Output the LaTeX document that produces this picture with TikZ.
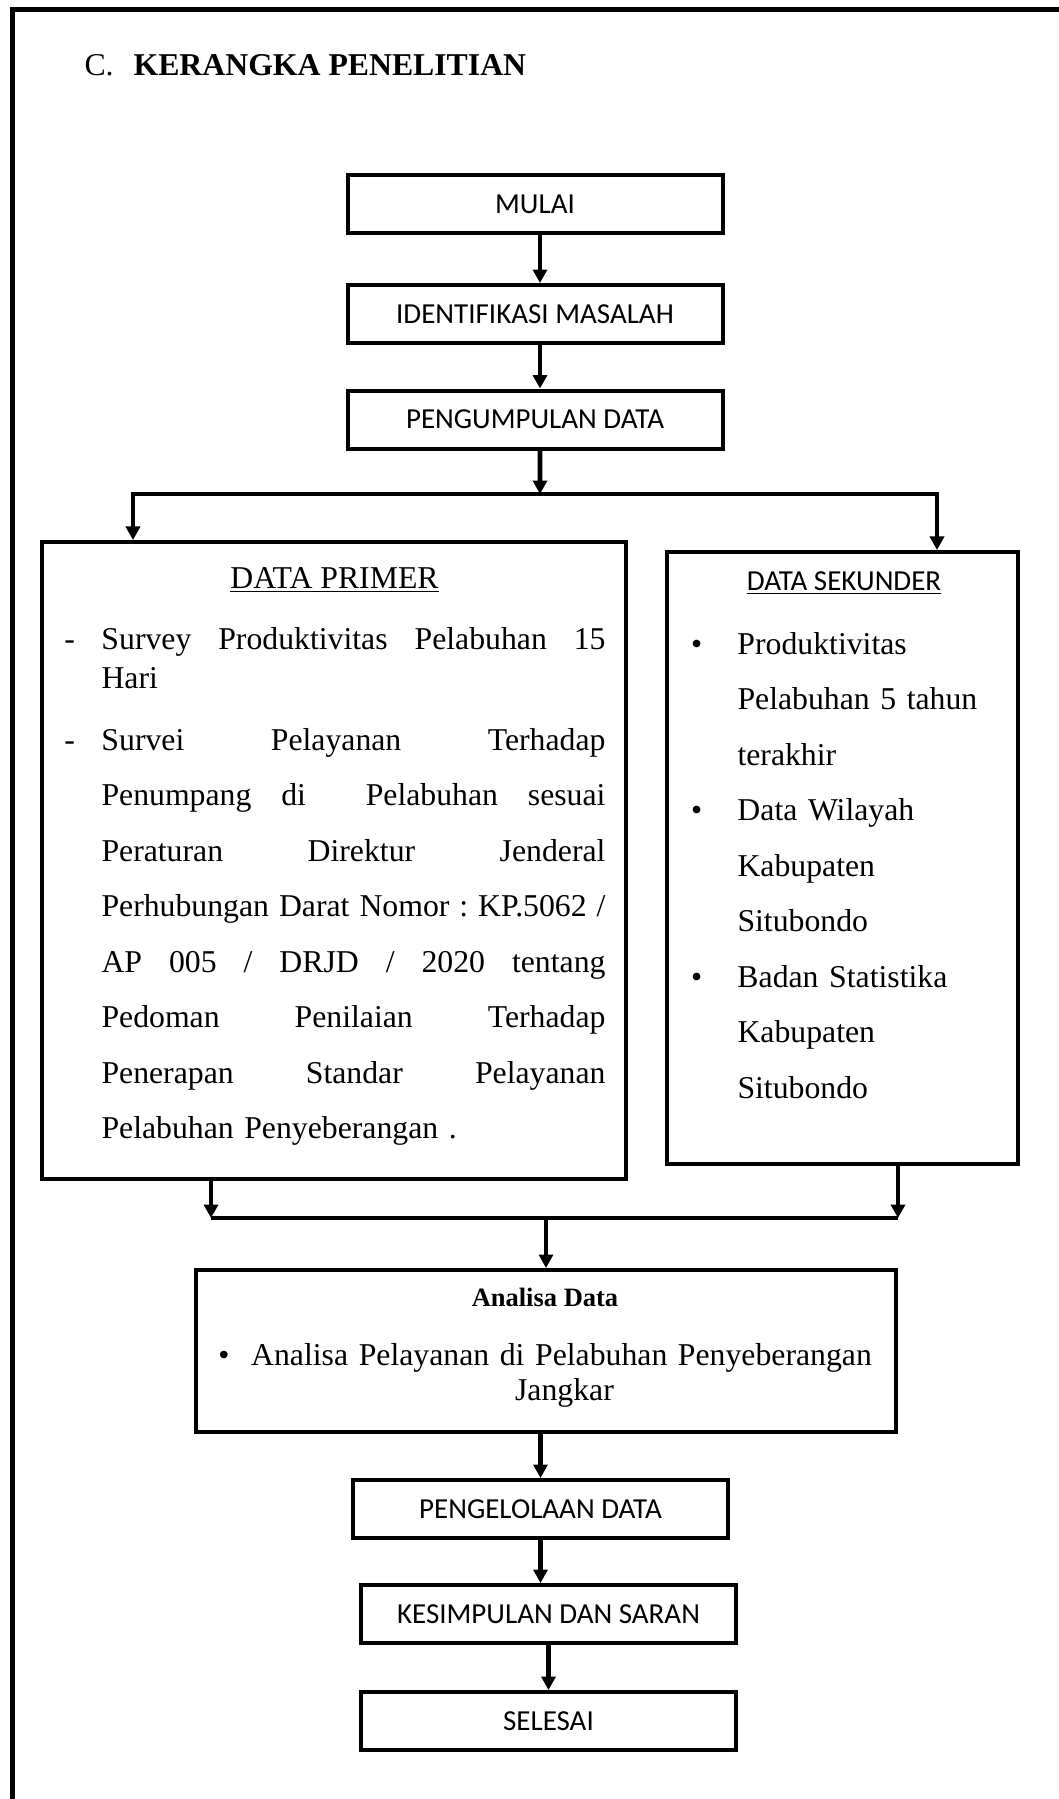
\documentclass[tikz,border=0pt]{standalone}
\usepackage{fontspec}
\setmainfont{Liberation Serif}
\newfontfamily\calibri{Carlito}
\usetikzlibrary{positioning,arrows.meta}
\newcommand{\fullline}[1]{\makebox[201.6pt][s]{\spaceskip=3.2pt plus 1fil\xspaceskip=3.2pt plus 1fil\relax #1}}
\newcommand{\tanda}[2]{\leavevmode\llap{\makebox[#1][l]{#2}}}

\begin{document}
\begin{tikzpicture}[x=0.4pt, y=-0.4pt,
        flowbox/.style={rectangle, draw=black, line width=1.6pt,
                   minimum width=150pt, minimum height=23.2pt, inner sep=0pt,
                   font=\calibri\fontsize{11.6}{14}\selectfont},
        databox/.style={rectangle, draw=black, line width=1.6pt, inner sep=0pt},
        teks/.style={inner sep=0pt, font=\fontsize{12.7}{22.2}\selectfont},
        arrow/.style={-{Triangle[length=5.4pt, width=5.6pt]}, line width=1.9pt},
        garis/.style={line width=1.9pt}
    ]
        \path[use as bounding box, fill=white] (0,0) rectangle (1059,1799);
        \draw[line width=2pt] (12,10) rectangle (1090,1830);

        \node[teks, anchor=base west] (judul) at (84,76) {C.\hspace{8pt}\textbf{KERANGKA PENELITIAN}};

        % alur atas
        \node[flowbox] (mulai) at (535,204) {MULAI};
        \node[flowbox, below=19.2pt of mulai] (ident) {IDENTIFIKASI MASALAH};
        \node[flowbox, below=17.4pt of ident] (kumpul) {PENGUMPULAN DATA};

        % data primer
        \node[databox, minimum width=233.4pt, minimum height=254.8pt] (primer) at (334.25,860.5) {};
        \node[teks, anchor=base] (primerjudul) at (334.5,588) {\underline{DATA PRIMER}};
        \node[teks, anchor=base west, text width=201.6pt, align=left] (primerisi) at (101,649) {%
            \tanda{14.8pt}{-}\fullline{Survey Produktivitas Pelabuhan 15}\\[-6.6pt]
            Hari\\[2.6pt]
            \tanda{14.8pt}{-}\fullline{Survei Pelayanan Terhadap}\\
            \fullline{Penumpang di\ \ Pelabuhan sesuai}\\
            \fullline{Peraturan Direktur Jenderal}\\
            \fullline{Perhubungan Darat Nomor : KP.5062 /}\\
            \fullline{AP 005 / DRJD / 2020 tentang}\\
            \fullline{Pedoman Penilaian Terhadap}\\
            \fullline{Penerapan Standar Pelayanan}\\
            Pelabuhan Penyeberangan .};

        % data sekunder
        \node[databox, minimum width=140.4pt, minimum height=244.8pt] (sekunder) at (842.5,858) {};
        \node[teks, anchor=base, font=\calibri\fontsize{11.6}{14}\selectfont] (sekunderjudul) at (844,590) {\underline{DATA SEKUNDER}};
        \node[teks, anchor=base west, text width=110pt, align=left] (sekunderisi) at (737,654) {%
            \tanda{18.6pt}{\textbullet}Produktivitas\\
            Pelabuhan 5 tahun\\
            terakhir\\
            \tanda{18.6pt}{\textbullet}Data Wilayah\\
            Kabupaten\\
            Situbondo\\
            \tanda{18.6pt}{\textbullet}Badan Statistika\\
            Kabupaten\\
            Situbondo};

        % analisa
        \node[databox, minimum width=279.8pt, minimum height=64.8pt] (analisa) at (545.75,1351) {};
        \node[anchor=base, inner sep=0pt, font=\bfseries\fontsize{10.6}{12}\selectfont] (analisajudul) at (545,1306) {Analisa Data};
        \node[teks, anchor=base west, text width=250.6pt, align=left, font=\fontsize{12.7}{14}\selectfont] (analisaisi) at (250.7,1365) {%
            \tanda{13.1pt}{\textbullet}Analisa Pelayanan di Pelabuhan Penyeberangan\\
            \makebox[250.6pt]{Jangkar}};

        % alur bawah
        \node[flowbox] (kelola) at (540.5,1509) {PENGELOLAAN DATA};
        \node[flowbox, below=17.2pt of kelola, xshift=3.2pt] (simpul) {KESIMPULAN DAN SARAN};
        \node[flowbox, below=18pt of simpul] (selesai) {SELESAI};

        \coordinate (cabang) at (540,494);
        \coordinate (cabangkiri) at (133,494);
        \coordinate (cabangkanan) at (937,494);
        \coordinate (gabung) at (546,1218);
        \coordinate (gabungkiri) at (211,1218);
        \coordinate (gabungkanan) at (898,1218);

        \draw[arrow] ([xshift=2pt]mulai.south) -- ([xshift=2pt]ident.north);
        \draw[arrow] ([xshift=2pt]ident.south) -- ([xshift=2pt]kumpul.north);
        \draw[arrow] ([xshift=2pt]kumpul.south) -- (cabang);
        \draw[arrow] (cabang) -- (cabangkiri) -- (cabangkiri |- primer.north);
        \draw[arrow] (cabang) -- (cabangkanan) -- (cabangkanan |- sekunder.north);

        \draw[arrow] (primer.south -| gabungkiri) -- (gabungkiri);
        \draw[arrow] (sekunder.south -| gabungkanan) -- (gabungkanan);
        \draw[garis] (gabungkiri) -- (gabungkanan);
        \draw[arrow] (gabung) -- (analisa.north -| gabung);
        \draw[arrow] (analisa.south -| kelola) -- (kelola.north);
        \draw[arrow] (kelola.south) -- (kelola.south |- simpul.north);
        \draw[arrow] (simpul.south) -- (selesai.north);
    \end{tikzpicture}
\end{document}
